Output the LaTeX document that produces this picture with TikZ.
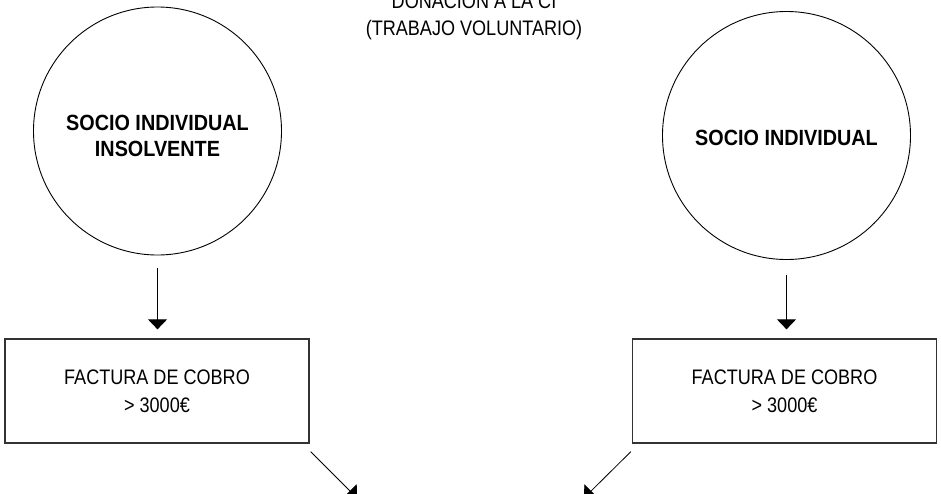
\documentclass[tikz,border=0pt]{standalone}
\usepackage{fontspec}
\setmainfont{Liberation Sans}
\newfontfamily\textocond[FakeStretch=0.86]{Liberation Sans}
\newfontfamily\negritacond[FakeStretch=0.9]{Liberation Sans Bold}
\usetikzlibrary{arrows.meta,positioning}

\tikzset{
  socio/.style={draw, circle, line width=0.9pt, minimum size=248pt, inner sep=0pt},
  textosocio/.style={align=center, yshift=-5pt, font=\negritacond\fontsize{22}{26}\selectfont},
  factura/.style={draw, line width=1.3pt, draw=black!80, minimum width=304pt, minimum height=104pt,
    align=center, font=\textocond\fontsize{21}{28}\selectfont},
  flecha/.style={line width=0.8pt, -{Triangle[width=19pt,length=10pt]}}
}

\begin{document}
\begin{tikzpicture}[x=1pt,y=-1pt]
\useasboundingbox (0,0) rectangle (941,493);
\node[font=\textocond\fontsize{21}{27}\selectfont, align=center, inner sep=0pt, anchor=south] (donacion) at (474,40.5)
  {DONACIÓN A LA CI\\(TRABAJO VOLUNTARIO)};
\node[socio, label={[textosocio]center:SOCIO INDIVIDUAL\\INSOLVENTE}] (insolvente) at (157.5,131) {};
\node[socio, label={[textosocio, yshift=3pt]center:SOCIO INDIVIDUAL}] (individual) at (786.5,135.5) {};
\node[factura] (facturaA) at (157,391) {FACTURA DE COBRO\\> 3000€};
\node[factura] (facturaB) at (784.5,391) {FACTURA DE COBRO\\> 3000€};
\coordinate (salidaA) at (357,498);
\coordinate (salidaB) at (584,498);
\draw[flecha] ([yshift=-13pt]insolvente.south) -- ([yshift=9pt]insolvente.south |- facturaA.north);
\draw[flecha] ([yshift=-15pt]individual.south) -- ([yshift=9pt]individual.south |- facturaB.north);
\draw[flecha] ([shift={(1pt,-8pt)}]facturaA.south east) -- (salidaA);
\draw[flecha] ([shift={(-1pt,-8pt)}]facturaB.south west) -- (salidaB);
\end{tikzpicture}
\end{document}
